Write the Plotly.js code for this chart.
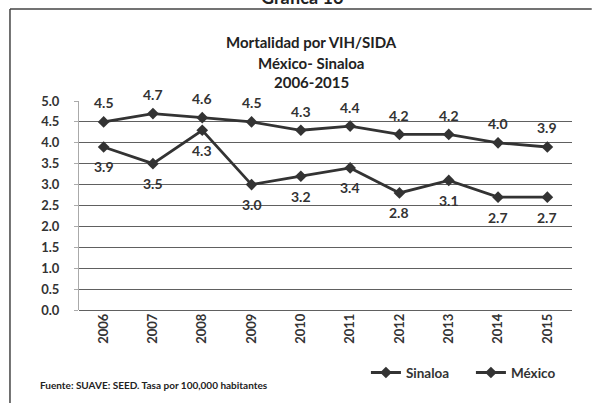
<!DOCTYPE html>
<html>
<head>
<meta charset="utf-8">
<script src="https://cdn.plot.ly/plotly-3.0.1.min.js"></script>
<style>html,body{margin:0;padding:0;background:#fff;}#chart{width:595px;height:403px;}</style>
</head>
<body>
<div id="chart"></div>
<script>
const years = ['2006','2007','2008','2009','2010','2011','2012','2013','2014','2015'];
const sinaloa = [3.9, 3.5, 4.3, 3.0, 3.2, 3.4, 2.8, 3.1, 2.7, 2.7];
const mexico = [4.5, 4.7, 4.6, 4.5, 4.3, 4.4, 4.2, 4.2, 4.0, 3.9];
const yTicks = [0, 0.5, 1, 1.5, 2, 2.5, 3, 3.5, 4, 4.5, 5];

const FONT = 'Lato, "Liberation Sans", sans-serif';
const lineColor = '#333333';

const traces = [
  {
    x: years, y: sinaloa, name: 'Sinaloa', type: 'scatter',
    mode: 'lines+markers',
    line: {color: lineColor, width: 2.8},
    marker: {symbol: 'diamond', size: 9, color: lineColor},
    cliponaxis: false
  },
  {
    x: years, y: mexico, name: 'México', type: 'scatter',
    mode: 'lines+markers',
    line: {color: lineColor, width: 2.8},
    marker: {symbol: 'diamond', size: 9, color: lineColor},
    cliponaxis: false
  }
];

const labelFont = {family: FONT, size: 14, color: '#333', weight: 'bold'};
const dataLabels = [];
years.forEach((yr, i) => {
  dataLabels.push({x: i, y: mexico[i], xref: 'x', yref: 'y', text: mexico[i].toFixed(1),
    showarrow: false, yshift: 19, font: labelFont});
  dataLabels.push({x: i, y: sinaloa[i], xref: 'x', yref: 'y', text: sinaloa[i].toFixed(1),
    showarrow: false, yshift: -20, font: labelFont});
});

const titleFont = {family: FONT, size: 15, color: '#222', weight: 'bold'};

const layout = {
  width: 595, height: 403,
  margin: {l: 79, r: 23, t: 101, b: 93, autoexpand: false},
  paper_bgcolor: '#ffffff', plot_bgcolor: '#ffffff',
  font: {family: FONT, color: '#333'},
  showlegend: true,
  legend: {
    orientation: 'h', x: 0.582, y: -0.30, xanchor: 'left', yanchor: 'middle',
    font: {family: FONT, size: 13.5, color: '#333', weight: 'bold'},
    bgcolor: 'rgba(0,0,0,0)', itemwidth: 30, entrywidth: 60, tracegroupgap: 0
  },
  xaxis: {
    type: 'category', range: [-0.5, 9.5],
    tickangle: -90,
    tickfont: {family: FONT, size: 13, color: '#333', weight: 'bold'},
    showgrid: false, zeroline: false, showline: false,
    ticks: '', fixedrange: true
  },
  yaxis: {
    range: [0, 5], tickvals: yTicks,
    ticktext: yTicks.map(v => v.toFixed(1)),
    tickfont: {family: FONT, size: 13, color: '#333', weight: 'bold'},
    showgrid: true, gridcolor: '#606060', gridwidth: 1,
    zeroline: true, zerolinecolor: '#606060', zerolinewidth: 1,
    showline: true, linecolor: '#aaa', linewidth: 1,
    ticks: 'outside', ticklen: 4, tickcolor: '#aaa', ticklabelstandoff: 12,
    fixedrange: true
  },
  shapes: [
    {type: 'line', xref: 'paper', yref: 'paper', x0: -0.14, x1: 1.04, y0: 1.44, y1: 1.44,
     line: {color: '#444', width: 1.5}},
    {type: 'line', xref: 'paper', yref: 'paper', x0: -0.14, x1: -0.14, y0: 1.44, y1: -0.5,
     line: {color: '#444', width: 1.5}}
  ],
  annotations: dataLabels.concat([
    {text: 'Mortalidad por VIH/SIDA', xref: 'paper', yref: 'paper', x: 0.471, y: 1.282,
     showarrow: false, xanchor: 'center', yanchor: 'middle', font: titleFont},
    {text: 'México- Sinaloa', xref: 'paper', yref: 'paper', x: 0.471, y: 1.182,
     showarrow: false, xanchor: 'center', yanchor: 'middle', font: titleFont},
    {text: '2006-2015', xref: 'paper', yref: 'paper', x: 0.471, y: 1.091,
     showarrow: false, xanchor: 'center', yanchor: 'middle', font: titleFont},
    {text: 'Gráfica 16', xref: 'paper', yref: 'paper', x: 0.452, y: 1.50,
     showarrow: false, xanchor: 'center', yanchor: 'middle',
     font: {family: FONT, size: 18, color: '#222', weight: 'bold'}},
    {text: 'Fuente: SUAVE: SEED. Tasa por 100,000 habitantes', xref: 'paper', yref: 'paper',
     x: -0.083, y: -0.36, showarrow: false, xanchor: 'left', yanchor: 'middle',
     font: {family: FONT, size: 10, color: '#222', weight: 'bold'}}
  ])
};

Plotly.newPlot('chart', traces, layout, {displayModeBar: false, staticPlot: true});
</script>
</body>
</html>
